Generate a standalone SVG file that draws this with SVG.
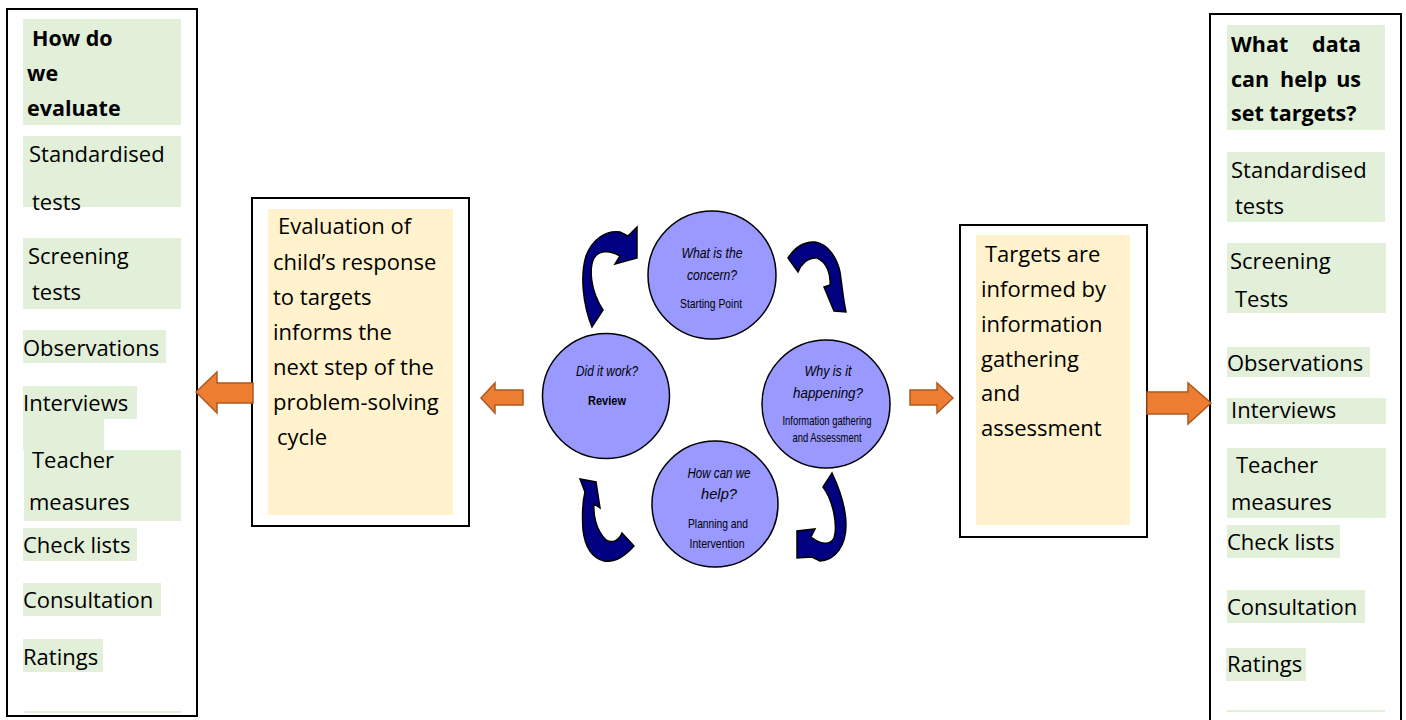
<svg xmlns="http://www.w3.org/2000/svg" width="1406" height="720" viewBox="0 0 1406 720">
<defs>
<style>
.frame{fill:#fff;stroke:#000;stroke-width:2}
.hl{fill:#E2EFD9}
.cream{fill:#FFF2CC}
.t{font-family:"Open Sans","Liberation Sans",sans-serif;font-size:22px;fill:#000}
.tb{font-family:"Open Sans","Liberation Sans",sans-serif;font-size:21.5px;font-weight:bold;fill:#000}
.circ{fill:#9999FF;stroke:#000;stroke-width:1.5}
.ci{font-family:"Liberation Sans",Arial,sans-serif;font-style:italic;font-size:15px;fill:#000;text-anchor:middle}
.cs{font-family:"Liberation Sans",Arial,sans-serif;font-size:13px;fill:#000;text-anchor:middle}
.orange{fill:#ED7D31;stroke:#AE5A21;stroke-width:1.5;stroke-linejoin:miter}
.navy{fill:#000080;stroke:#000;stroke-width:1.5;stroke-linejoin:miter}
</style>
</defs>
<rect width="1406" height="720" fill="#fff"/>

<!-- Left column -->
<g id="left-column">
<rect class="frame" x="7" y="9" width="190" height="707"/>
<rect class="hl" x="23" y="19" width="158" height="106"/>
<text class="tb" x="32" y="46">How do</text>
<text class="tb" x="27" y="81">we</text>
<text class="tb" x="27" y="116">evaluate</text>
<rect class="hl" x="23" y="136" width="158" height="71"/>
<text class="t" x="29" y="162">Standardised</text>
<text class="t" x="32" y="210">tests</text>
<rect class="hl" x="23" y="238" width="158" height="71"/>
<text class="t" x="28" y="264">Screening</text>
<text class="t" x="32" y="300">tests</text>
<rect class="hl" x="23" y="330" width="143" height="33"/>
<text class="t" x="23" y="356">Observations</text>
<rect class="hl" x="23" y="386" width="114" height="33"/>
<rect class="hl" x="23" y="418" width="81" height="33"/>
<text class="t" x="23" y="411">Interviews</text>
<rect class="hl" x="24" y="450" width="157" height="71"/>
<text class="t" x="32" y="468">Teacher</text>
<text class="t" x="29" y="510">measures</text>
<rect class="hl" x="23" y="528" width="114" height="33"/>
<text class="t" x="23" y="553">Check lists</text>
<rect class="hl" x="23" y="583" width="138" height="33"/>
<text class="t" x="23" y="608">Consultation</text>
<rect class="hl" x="23" y="639" width="80" height="33"/>
<text class="t" x="23" y="665">Ratings</text>
<rect class="hl" x="24" y="711" width="157" height="2"/>
</g>

<!-- Evaluation box -->
<g id="evaluation-box">
<rect class="frame" x="252" y="198" width="217" height="328"/>
<rect class="cream" x="268" y="209" width="185" height="306"/>
<text class="t" x="278" y="234">Evaluation of</text>
<text class="t" x="273" y="270">child’s response</text>
<text class="t" x="273" y="305">to targets</text>
<text class="t" x="273" y="340">informs the</text>
<text class="t" x="273" y="375">next step of the</text>
<text class="t" x="273" y="410">problem-solving</text>
<text class="t" x="277" y="445">cycle</text>
</g>

<!-- Cycle nodes -->
<g id="node-concern">
<circle class="circ" cx="712" cy="275" r="64"/>
<text class="ci" x="712" y="258" textLength="61" lengthAdjust="spacingAndGlyphs">What is the</text>
<text class="ci" x="712" y="280" textLength="50" lengthAdjust="spacingAndGlyphs">concern?</text>
<text class="cs" x="711" y="308" textLength="62" lengthAdjust="spacingAndGlyphs">Starting Point</text>
</g>
<g id="node-review">
<ellipse class="circ" cx="606" cy="396" rx="63.5" ry="62.5"/>
<text class="ci" x="607" y="376" textLength="62" lengthAdjust="spacingAndGlyphs">Did it work?</text>
<text class="cs" x="607" y="405" font-weight="bold" textLength="38" lengthAdjust="spacingAndGlyphs">Review</text>
</g>
<g id="node-why">
<circle class="circ" cx="826" cy="404" r="64"/>
<text class="ci" x="828" y="376" textLength="47" lengthAdjust="spacingAndGlyphs">Why is it</text>
<text class="ci" x="828" y="398" textLength="70" lengthAdjust="spacingAndGlyphs">happening?</text>
<text class="cs" x="827" y="425" font-size="11.5" textLength="89" lengthAdjust="spacingAndGlyphs">Information gathering</text>
<text class="cs" x="827" y="442" font-size="11.5" textLength="69" lengthAdjust="spacingAndGlyphs">and Assessment</text>
</g>
<g id="node-help">
<circle class="circ" cx="715" cy="504" r="63"/>
<text class="ci" x="719" y="478" textLength="63" lengthAdjust="spacingAndGlyphs">How can we</text>
<text class="ci" x="719" y="499" textLength="36" lengthAdjust="spacingAndGlyphs">help?</text>
<text class="cs" x="718" y="528" textLength="60" lengthAdjust="spacingAndGlyphs">Planning and</text>
<text class="cs" x="717" y="548" textLength="55" lengthAdjust="spacingAndGlyphs">Intervention</text>
</g>

<!-- Targets box -->
<g id="targets-box">
<rect class="frame" x="960" y="225" width="187" height="312"/>
<rect class="cream" x="976" y="235" width="154" height="290"/>
<text class="t" x="985" y="262">Targets are</text>
<text class="t" x="981" y="297">informed by</text>
<text class="t" x="981" y="332">information</text>
<text class="t" x="981" y="367">gathering</text>
<text class="t" x="981" y="401">and</text>
<text class="t" x="981" y="436">assessment</text>
</g>

<!-- Right column -->
<g id="right-column">
<rect class="frame" x="1210" y="14" width="191" height="716"/>
<rect class="hl" x="1227" y="25" width="158" height="105"/>
<text class="tb" x="1231" y="52">What</text>
<text class="tb" x="1361" y="52" text-anchor="end">data</text>
<text class="tb" x="1231" y="87">can</text>
<text class="tb" x="1280" y="87">help</text>
<text class="tb" x="1361" y="87" text-anchor="end">us</text>
<text class="tb" x="1231" y="121">set targets?</text>
<rect class="hl" x="1227" y="152" width="158" height="70"/>
<text class="t" x="1231" y="178">Standardised</text>
<text class="t" x="1235" y="214">tests</text>
<rect class="hl" x="1227" y="243" width="159" height="70"/>
<text class="t" x="1230" y="269">Screening</text>
<text class="t" x="1235" y="307">Tests</text>
<rect class="hl" x="1227" y="347" width="143" height="30"/>
<text class="t" x="1227" y="371">Observations</text>
<rect class="hl" x="1227" y="398" width="159" height="26"/>
<text class="t" x="1231" y="418">Interviews</text>
<rect class="hl" x="1227" y="448" width="159" height="70"/>
<text class="t" x="1236" y="473">Teacher</text>
<text class="t" x="1231" y="510">measures</text>
<rect class="hl" x="1227" y="525" width="113" height="33"/>
<text class="t" x="1227" y="550">Check lists</text>
<rect class="hl" x="1227" y="590" width="138" height="33"/>
<text class="t" x="1227" y="615">Consultation</text>
<rect class="hl" x="1226" y="648" width="80" height="33"/>
<text class="t" x="1227" y="672">Ratings</text>
<rect class="hl" x="1227" y="710" width="158" height="2"/>
</g>

<!-- Connectors -->
<g id="connectors">
<polygon class="orange" points="196,392 217,372 217,383 253,383 253,403 217,403 217,413"/>
<polygon class="orange" points="481,398 495,383 495,390 523,390 523,405 495,405 495,413"/>
<polygon class="orange" points="910,390 937,390 937,383 953,398 937,413 937,405 910,405"/>
<polygon class="orange" points="1147,392 1188,392 1188,383 1211,403 1188,424 1188,414 1147,414"/>
<!-- curved cycle arrows -->
<path class="navy" d="M592,327 C583,305 580,276 586,256 C592,240 605,230 620,232 L628,236 L637,227 L637,258 L615,264 L620,256 C610,250 599,250 594,258 C589,268 590,290 603,310 Z"/>
<path class="navy" d="M788,258 C795,247 805,241 815,242 C828,244 837,258 840,272 C842,285 843,298 846,312 L834,311 L824,287 L830,285 C831,275 827,262 817,258 C808,257 801,264 798,272 Z"/>
<path class="navy" d="M832,473 C840,490 846,508 846,525 C846,545 836,560 820,561 L812,557 L797,558 L797,531 L815,529 L811,537 C820,544 830,546 834,538 C838,525 833,500 823,487 Z"/>
<path class="navy" d="M634,546 C625,556 615,563 604,561 C592,558 585,547 583,530 C582,515 583,500 585,492 L580,479 L596,482 L600,508 L594,504 C593,515 596,530 606,540 C613,544 619,540 622,533 Z"/>
</g>
</svg>
